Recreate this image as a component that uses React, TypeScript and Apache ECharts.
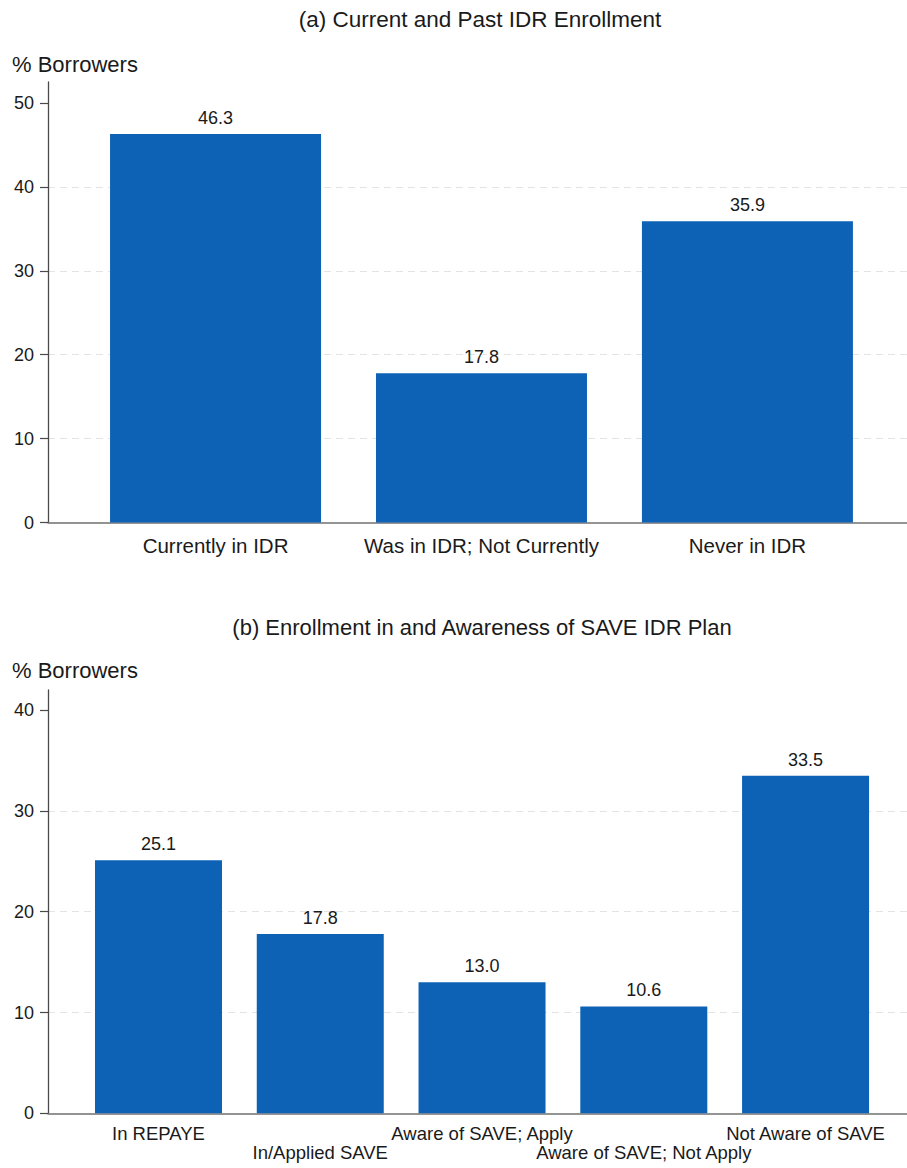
import React, { useEffect, useRef } from "react";
import * as echarts from "echarts";

const titleA = "(a) Current and Past IDR Enrollment";
const titleB = "(b) Enrollment in and Awareness of SAVE IDR Plan";
const yName = "% Borrowers";

const catsA = ["Currently in IDR", "Was in IDR; Not Currently", "Never in IDR"];
const valsA = [46.3, 17.8, 35.9];
const ticksA = [0, 10, 20, 30, 40, 50];

const catsB = [
  "In REPAYE",
  "In/Applied SAVE",
  "Aware of SAVE; Apply",
  "Aware of SAVE; Not Apply",
  "Not Aware of SAVE",
];
const valsB = [25.1, 17.8, 13.0, 10.6, 33.5];
const ticksB = [0, 10, 20, 30, 40];

const FONT = "'Liberation Sans', Arial, sans-serif";
const TEXT = "#1a1a1a";
const BAR = "#0e62b5";
const AXIS = "#4a4a4a";
const XAXIS = "#707070";
const GRID = "#e4e4e4";

function yAxisCfg(gridIndex: number, max: number, ticks: number[]) {
  return {
    type: "value",
    gridIndex,
    min: 0,
    max,
    interval: 10,
    axisLine: { show: true, lineStyle: { color: AXIS, width: 1.3 } },
    axisTick: { show: true, length: 8, customValues: ticks, lineStyle: { color: AXIS, width: 1.2 } },
    axisLabel: {
      customValues: ticks,
      fontSize: 18,
      fontFamily: FONT,
      color: TEXT,
      margin: 14,
      formatter: (v: number) => (ticks.includes(v) ? String(v) : ""),
    },
    splitLine: {
      show: true,
      showMinLine: false,
      showMaxLine: false,
      lineStyle: { color: GRID, type: [7, 5], width: 1 },
    },
  };
}

const BX_MIN = 0.317;
const BX_MAX = 5.627;

function xAxisB(positions: number[], margin: number, showLine: boolean) {
  return {
    type: "value",
    gridIndex: 1,
    position: "bottom",
    offset: 0,
    min: BX_MIN,
    max: BX_MAX,
    axisLine: { show: showLine, onZero: false, lineStyle: { color: XAXIS, width: 1.5 } },
    axisTick: { show: false },
    splitLine: { show: false },
    axisLabel: {
      customValues: positions,
      formatter: (v: number) => catsB[Math.round(v) - 1] ?? "",
      fontSize: 18.5,
      fontFamily: FONT,
      color: TEXT,
      margin,
      showMinLabel: true,
      showMaxLabel: true,
    },
  };
}

export default function App() {
  const ref = useRef<HTMLDivElement>(null);
  useEffect(() => {
    document.body.style.margin = "0";
    const chart = echarts.init(ref.current!, null, { renderer: "svg" });
    const valueLabel = {
      show: true,
      position: "top",
      distance: 7,
      fontSize: 18,
      fontFamily: FONT,
      color: TEXT,
      formatter: (p: any) => Number(p.value[1]).toFixed(1),
    };
    const posB = catsB.map((_, i) => i + 1);
    chart.setOption({
      animation: false,
      backgroundColor: "#ffffff",
      textStyle: { fontFamily: FONT },
      grid: [
        { left: 48, right: 0, top: 82, height: 440.5 },
        { left: 48, right: 0, top: 690, height: 423.3 },
      ],
      xAxis: [
        {
          type: "value",
          gridIndex: 0,
          min: 0.37,
          max: 3.6,
          axisLine: { show: true, onZero: false, lineStyle: { color: XAXIS, width: 1.5 } },
          axisTick: { show: false },
          splitLine: { show: false },
          axisLabel: {
            customValues: catsA.map((_, i) => i + 1),
            formatter: (v: number) => catsA[Math.round(v) - 1] ?? "",
            fontSize: 20.5,
            fontFamily: FONT,
            color: TEXT,
            margin: 12,
            showMinLabel: true,
            showMaxLabel: true,
          },
        },
        xAxisB(posB.filter((p) => p % 2 === 1), 11, true),
        xAxisB(posB.filter((p) => p % 2 === 0), 30, false),
      ],
      yAxis: [yAxisCfg(0, 52.5, ticksA), yAxisCfg(1, 42, ticksB)],
      series: [
        {
          type: "bar",
          xAxisIndex: 0,
          yAxisIndex: 0,
          data: valsA.map((v, i) => [i + 1, v]),
          barWidth: 211,
          itemStyle: { color: BAR },
          label: valueLabel,
        },
        {
          type: "bar",
          xAxisIndex: 1,
          yAxisIndex: 1,
          data: valsB.map((v, i) => [i + 1, v]),
          barWidth: 127,
          itemStyle: { color: BAR },
          label: valueLabel,
        },
      ],
      graphic: [
        {
          type: "text",
          x: 480,
          y: 19,
          style: { text: titleA, fontSize: 22.5, fontFamily: FONT, fill: TEXT, textAlign: "center", textVerticalAlign: "middle" },
        },
        {
          type: "text",
          x: 12,
          y: 64,
          style: { text: yName, fontSize: 22, fontFamily: FONT, fill: TEXT, textAlign: "left", textVerticalAlign: "middle" },
        },
        {
          type: "text",
          x: 482,
          y: 627,
          style: { text: titleB, fontSize: 22, fontFamily: FONT, fill: TEXT, textAlign: "center", textVerticalAlign: "middle" },
        },
        {
          type: "text",
          x: 12,
          y: 670,
          style: { text: yName, fontSize: 22, fontFamily: FONT, fill: TEXT, textAlign: "left", textVerticalAlign: "middle" },
        },
      ],
    });
    return () => chart.dispose();
  }, []);
  return <div ref={ref} style={{ width: 907, height: 1168 }} />;
}
